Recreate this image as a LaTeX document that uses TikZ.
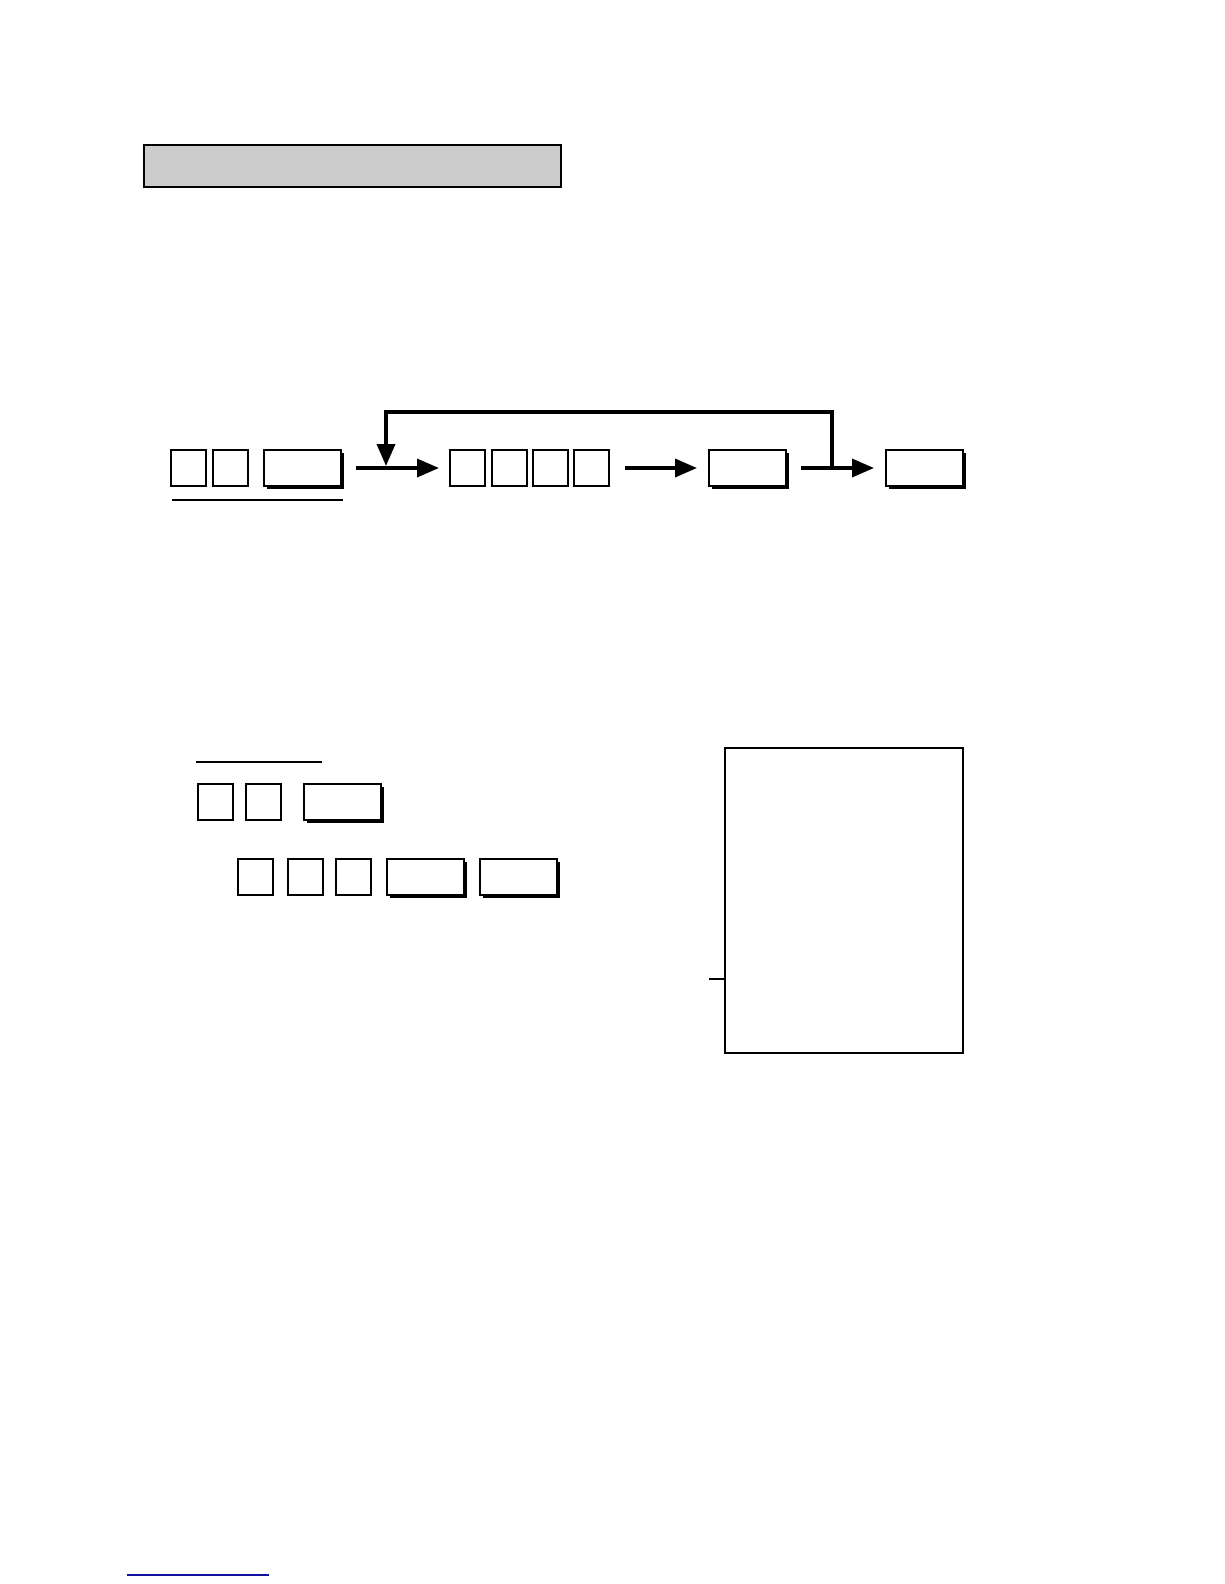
\documentclass[tikz,border=0pt]{standalone}
\usetikzlibrary{arrows.meta,shadows}
\definecolor{linkblue}{RGB}{16,16,160}
\begin{document}
\begin{tikzpicture}[x=1pt,y=-1pt,
  keysq/.style={draw=black,fill=white,line width=2pt,inner sep=0pt,minimum width=35pt,minimum height=36pt},
  keywide/.style={draw=black,fill=white,line width=2pt,inner sep=0pt,minimum width=77pt,minimum height=36pt,
     drop shadow={shadow xshift=3pt,shadow yshift=-3pt,fill=black,opacity=1}},
  flow/.style={line width=3.5pt,-{Triangle[length=22pt,width=18pt]}},
  fbline/.style={line width=3.5pt,-{Triangle[length=22pt,width=18pt]}}]
\useasboundingbox (0,0) rectangle (1224,1584);
% header bar
\node[draw=black,fill=black!20,line width=2pt,inner sep=0pt,minimum width=417pt,minimum height=42pt] (hdr) at (352.5,166) {};
% row 1
\node[keysq] (a1) at (188,468) {};
\node[keysq] (a2) at (230,468) {};
\node[keywide] (a3) at (302,468) {};
\coordinate (ulA) at (172,500);
\coordinate (ulB) at (343,500);
\draw[line width=2pt] (ulA) -- (ulB);
\node[keysq] (b1) at (467.5,468) {};
\node[keysq] (b2) at (509,468) {};
\node[keysq] (b3) at (550,468) {};
\node[keysq] (b4) at (591,468) {};
\node[keywide] (c1) at (747.5,468) {};
\node[keywide] (d1) at (924.5,468) {};
\draw[flow] ([xshift=14pt]a3.east) -- ([xshift=-10pt]b1.west);
\draw[flow] ([xshift=15pt]b4.east) -- ([xshift=-11pt]c1.west);
\draw[flow] ([xshift=14pt]c1.east) -- ([xshift=-11pt]d1.west);
\coordinate (fb) at (832,468);
\coordinate (fbtip) at (386,466);
\draw[fbline] (fb) |- (386,412) -- (fbtip);
% section 2
\coordinate (ul2A) at (196,762);
\coordinate (ul2B) at (322,762);
\draw[line width=1.2pt] (ul2A) -- (ul2B);
\node[keysq] (e1) at (215,802) {};
\node[keysq] (e2) at (263.5,802) {};
\node[keywide] (e3) at (342,802) {};
\node[keysq] (f1) at (255.5,876.5) {};
\node[keysq] (f2) at (305,876.5) {};
\node[keysq] (f3) at (353.5,876.5) {};
\node[keywide] (f4) at (425,876.5) {};
\node[keywide] (f5) at (518.5,876.5) {};
% receipt
\node[draw=black,line width=2pt,inner sep=0pt,minimum width=238pt,minimum height=305pt] (rc) at (844,900.5) {};
\coordinate (tk) at (709,979);
\draw[line width=1.2pt] (tk) -- (rc.west |- tk);
% bottom line
\coordinate (blA) at (127,1575);
\coordinate (blB) at (269,1575);
\draw[linkblue,line width=1.5pt] (blA) -- (blB);
\end{tikzpicture}
\end{document}
